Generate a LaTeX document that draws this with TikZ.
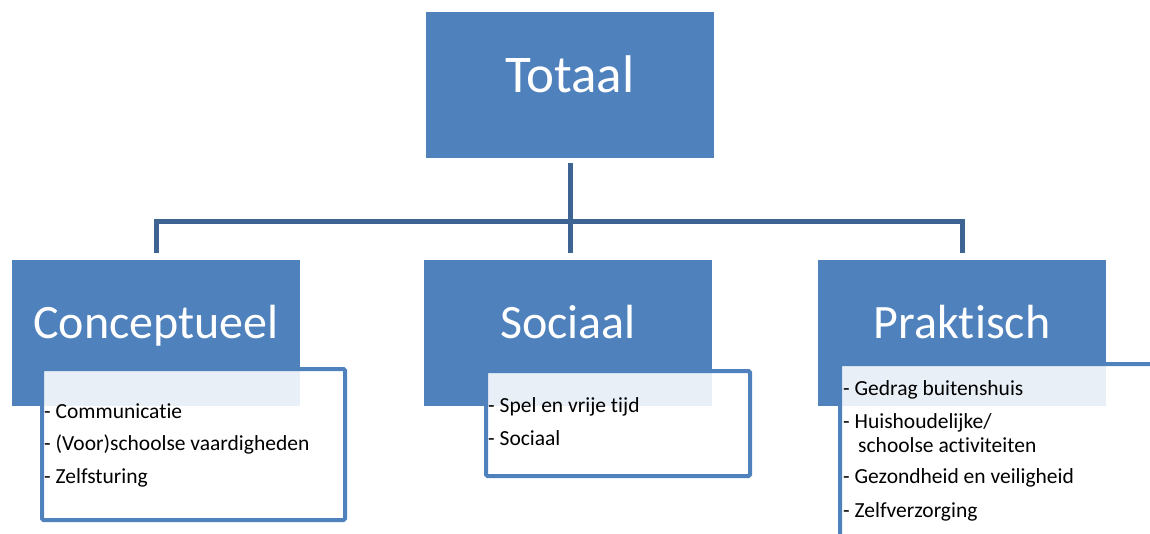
\documentclass[tikz,border=0pt]{standalone}
\usepackage{fontspec}
\setmainfont{Carlito}[Ligatures={NoCommon,NoRare}]
\usepackage{tikz}
\definecolor{boxblue}{HTML}{4F81BD}
\definecolor{linkblue}{HTML}{3E6494}

\begin{document}
\begin{tikzpicture}[x=1pt, y=-1pt,
    level/.style={fill=boxblue, text=white, inner sep=0pt, minimum width=288pt, minimum height=146pt,
                  font=\fontsize{48}{50}\selectfont, text height=30pt, text depth=18pt},
    list/.style={draw=boxblue, line width=4pt, fill=white, fill opacity=0.88, rounded corners=1.5pt, inner sep=0pt},
    item/.style={anchor=base west, inner sep=0pt, font=\fontsize{21.5}{24}\selectfont},
    link/.style={draw=linkblue, line width=5pt}]

    \clip (0,0) rectangle (1150,533);

    \node[level, font=\fontsize{53}{56}\selectfont, text height=31pt, text depth=17pt]
                         (totaal) at (570, 85)        {Totaal};
    \node[level]         (concept) at (156, 332.5)    {Conceptueel};
    \node[level]         (sociaal) at (568, 332.5)    {Sociaal};
    \node[level]         (praktisch) at (962, 332.5)  {Praktisch};

    \coordinate (hub) at (570, 221);

    \draw[link, shorten <=5pt] (totaal.south) -- (hub);
    \draw[link, shorten >=6pt] (hub) -| (concept.north);
    \draw[link, shorten >=6pt] (hub) -- (hub |- sociaal.north);
    \draw[link, shorten >=6pt] (hub) -| (praktisch.north);

    \node[list, minimum width=303pt, minimum height=151pt] (concept-list) at (193.5, 444.5) {};
    \node[list, minimum width=264pt, minimum height=105pt] (sociaal-list) at (618, 423.5) {};
    \node[list, minimum width=360pt, minimum height=216pt] (praktisch-list) at (1020, 472) {};

    \node[item]   (c1) at (44, 418)     {- Communicatie};
    \node[item]   (c2) at (44, 450)     {- (Voor)schoolse vaardigheden};
    \node[item]   (c3) at (44, 483)     {- Zelfsturing};

    \node[item]   (s1) at (488, 412)    {- Spel en vrije tijd};
    \node[item]   (s2) at (488, 445)    {- Sociaal};

    \node[item]   (p1) at (843, 395)    {- Gedrag buitenshuis};
    \node[item]   (p2) at (843, 428)    {- Huishoudelijke/};
    \node[item]   (p2b) at (858, 452)   {schoolse activiteiten};
    \node[item]   (p3) at (843, 483)    {- Gezondheid en veiligheid};
    \node[item]   (p4) at (843, 517)    {- Zelfverzorging};
  \end{tikzpicture}
\end{document}
